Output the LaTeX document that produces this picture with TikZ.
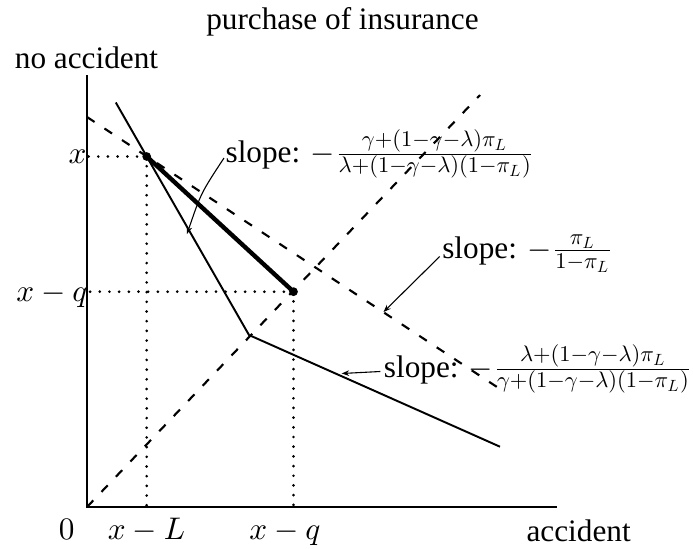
\documentclass[tikz,border=0pt]{standalone}
\usepackage[no-math]{fontspec}
\setmainfont{Liberation Serif}
\DeclareFontShape{OT1}{cmr}{m}{n}{<->cmr10}{}
\DeclareFontShape{OML}{cmm}{m}{it}{<->cmmi10}{}
\DeclareFontShape{OMS}{cmsy}{m}{n}{<->cmsy10}{}
\DeclareMathSizes{10}{10}{7.2}{5.2}
\usetikzlibrary{arrows.meta}
\begin{document}
\begin{tikzpicture}[x=0.32pt,y=-0.32pt,
  axis/.style={line width=0.9pt,line join=miter},
  budget/.style={line width=0.62pt},
  thickseg/.style={line width=1.4pt},
  guide/.style={line width=0.68pt,dash pattern=on 2.9pt off 3.8pt},
  dots/.style={line width=0.95pt,line cap=round,dash pattern=on 0pt off 3.1pt},
  pt/.style={circle,fill,inner sep=0pt,minimum size=2.8pt},
  lbl/.style={inner sep=0pt,font=\fontsize{10}{12}\selectfont},
  arr/.style={line width=0.35pt,-{Stealth[length=2.4pt,width=1.8pt]}}]
\useasboundingbox (0,0) rectangle (693,549);
% axes
\coordinate (ytop) at (87,75);
\coordinate (O) at (87,507);
\coordinate (xend) at (557,507);
\draw[axis] (ytop) -- (O) -- (xend);
% dashed lines
\coordinate (A) at (87,117);
\coordinate (B) at (497,387);
\coordinate (C) at (480,95);
\draw[guide] (A) -- (B);
\draw[guide] (O) -- (C);
% budget line
\coordinate (S0) at (115.8,102.5);
\coordinate (K) at (249,335);
\coordinate (F) at (500,446.7);
\draw[budget] (S0) -- (K) -- (F);
% points
\node[pt] (E) at (146.7,156.5) {};
\node[pt] (Q) at (293.5,291.7) {};
\draw[thickseg] (E.center) -- (Q.center);
% dotted guides
\coordinate (Ey) at (88,156.5);
\coordinate (Ex) at (146.7,511);
\coordinate (Qy) at (88,291.7);
\coordinate (Qx) at (293.5,511);
\draw[dots] (E.center) -- (Ey);
\draw[dots] (E.center) -- (Ex);
\draw[dots] (Q.center) -- (Qy);
\draw[dots] (Q.center) -- (Qx);
% axis labels
\node[lbl,anchor=base] (title) at (342.5,29) {purchase of insurance};
\node[lbl,anchor=base] (ylab) at (86.5,68) {no accident};
\node[lbl,anchor=base west] (xlab) at (526,541) {accident};
\node[lbl,anchor=base] (zero) at (66.7,539.5) {$0$};
\node[lbl,anchor=base] (xL) at (146.5,539.5) {$x-L$};
\node[lbl,anchor=base] (xq) at (285,539.5) {$x-q$};
\node[lbl,anchor=base east] (yx) at (87,163) {$x$};
\node[lbl,anchor=base east] (yxq) at (88,301.5) {$x-q$};
% slope labels
\node[lbl,anchor=base west] (L1) at (225,162) {slope: $-\frac{\gamma+(1-\gamma-\lambda)\pi_L}{\lambda+(1-\gamma-\lambda)(1-\pi_L)}$};
\node[lbl,anchor=base west] (L2) at (441.7,258) {slope: $-\frac{\pi_L}{1-\pi_L}$};
\node[lbl,anchor=base west] (L3) at (383.3,377) {slope: $-\frac{\lambda+(1-\gamma-\lambda)\pi_L}{\gamma+(1-\gamma-\lambda)(1-\pi_L)}$};
% connectors
\coordinate (t1) at (187,234);
\coordinate (t2) at (383.5,312);
\coordinate (t3) at (341.7,373.5);
\draw[arr] ([shift={(-1,-4)}]L1.base west) .. controls (201,193) .. (t1);
\draw[arr] ([shift={(-2,-1.5)}]L2.base west) -- (t2);
\draw[arr] ([shift={(-3,-5.5)}]L3.base west) -- (t3);
\end{tikzpicture}
\end{document}
